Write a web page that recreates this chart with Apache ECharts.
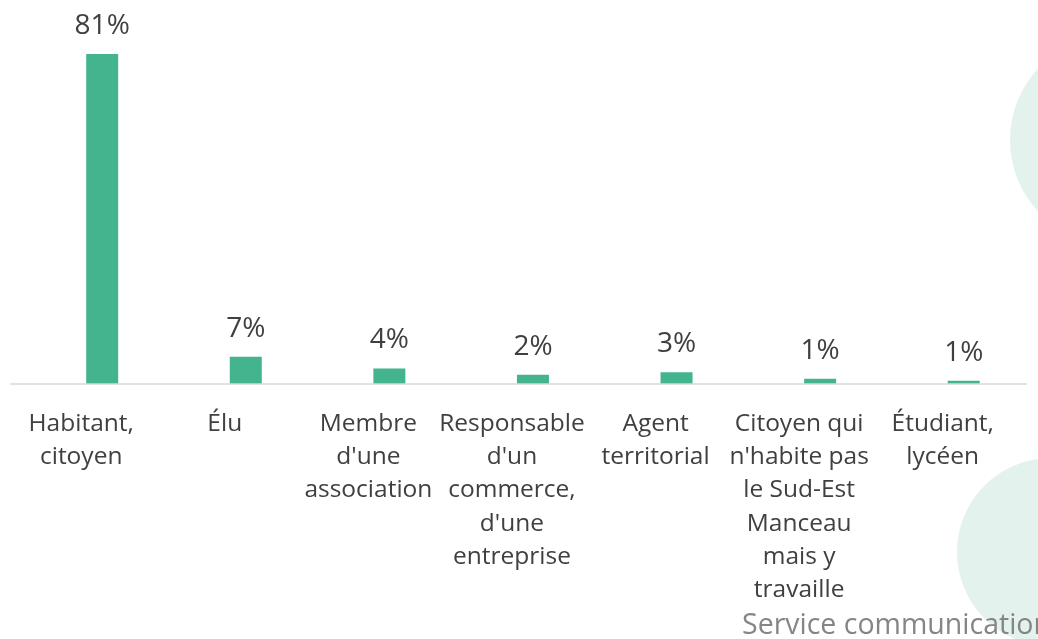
<!DOCTYPE html>
<html>
<head>
<meta charset="utf-8">
<script src="https://cdn.jsdelivr.net/npm/echarts@6/dist/echarts.min.js"></script>
<style>
html,body{margin:0;padding:0;background:#fff;}
#chart{width:1038px;height:639px;}
</style>
</head>
<body>
<div id="chart"></div>
<script>
// Categories (plain names)
const categories = [
  "Habitant, citoyen",
  "Élu",
  "Membre d'une association",
  "Responsable d'un commerce, d'une entreprise",
  "Agent territorial",
  "Citoyen qui n'habite pas le Sud-Est Manceau mais y travaille",
  "Étudiant, lycéen"
];
// Tick labels as wrapped in the reference
const tickLabels = [
  "Habitant,\ncitoyen",
  "Élu",
  "Membre\nd'une\nassociation",
  "Responsable\nd'un\ncommerce,\nd'une\nentreprise",
  "Agent\nterritorial",
  "Citoyen qui\nn'habite pas\nle Sud-Est\nManceau\nmais y\ntravaille",
  "Étudiant,\nlycéen"
];
// Values in percent
const values = [81, 6.7, 3.8, 2.3, 2.9, 1.3, 0.8];
const footerText = "Service communication";

const chart = echarts.init(document.getElementById('chart'), null, {renderer: 'canvas'});
const FONT = "'Open Sans', 'Noto Sans', sans-serif";
const labelBase = {fontSize: 24.5, lineHeight: 33.3, color: '#404040', fontFamily: FONT};

chart.setOption({
  backgroundColor: '#ffffff',
  animation: false,
  textStyle: {fontFamily: FONT},
  grid: {left: 30.4, right: -9.4, top: 17.3, bottom: 255, containLabel: false},
  xAxis: {
    type: 'category',
    data: categories,
    axisLine: {show: false},
    axisTick: {show: false},
    axisLabel: {
      interval: 0,
      margin: 23,
      fontSize: 24.5,
      lineHeight: 33.3,
      color: '#404040',
      fontFamily: FONT,
      formatter: function (v, i) {
        return tickLabels[i].split('\n').map(function (s) { return '{l|' + s + '}'; }).join('\n');
      },
      rich: {
        l: Object.assign({padding: [0, 42, 0, 0]}, labelBase)
      }
    }
  },
  yAxis: {
    type: 'value',
    min: 0,
    max: 90,
    show: false,
    splitLine: {show: false}
  },
  graphic: [
    {type: 'circle', z: -10, shape: {cx: 1115, cy: 140, r: 105}, style: {fill: '#e3f2ec'}, silent: true},
    {type: 'circle', z: -10, shape: {cx: 1051, cy: 552, r: 94}, style: {fill: '#e3f2ec'}, silent: true},
    {type: 'line', z: 5, shape: {x1: 10, y1: 384, x2: 1027, y2: 384}, style: {stroke: '#d9d9d9', lineWidth: 1.5}, silent: true},
    {type: 'text', z: 5, left: 742, top: 611, style: {text: footerText, fontSize: 28.5, fill: '#858585', fontFamily: FONT}, silent: true}
  ],
  series: [{
    type: 'bar',
    data: values,
    barWidth: 32,
    itemStyle: {color: '#44b48f'},
    label: {
      show: true,
      position: 'top',
      distance: 14,
      fontSize: 28,
      color: '#404040',
      fontFamily: FONT,
      formatter: function (p) { return Math.round(p.value) + '%'; }
    }
  }]
});
</script>
</body>
</html>
